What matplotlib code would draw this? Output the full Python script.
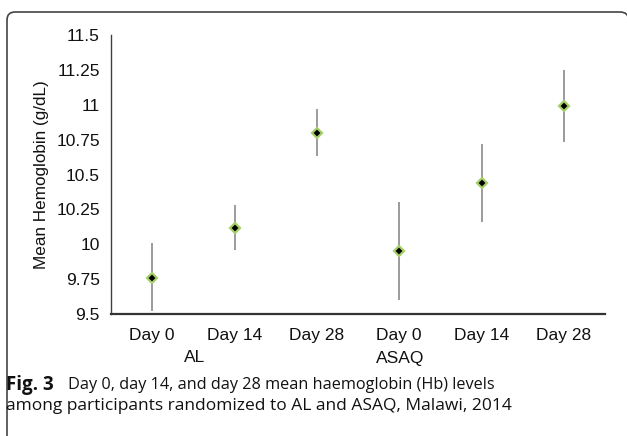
import matplotlib.pyplot as plt
from matplotlib.patches import PathPatch
from matplotlib.path import Path
from matplotlib.transforms import blended_transform_factory

# values
day_labels = ['Day 0', 'Day 14', 'Day 28', 'Day 0', 'Day 14', 'Day 28']
group_names = ['AL', 'ASAQ']
group_label_pos = [0.52, 3.01]
hb_mean = [9.76, 10.12, 10.80, 9.95, 10.44, 10.99]
hb_upper = [10.01, 10.28, 10.97, 10.30, 10.72, 11.25]
hb_lower = [9.52, 9.96, 10.63, 9.60, 10.16, 10.73]
y_ticks = [9.5, 9.75, 10, 10.25, 10.5, 10.75, 11, 11.25, 11.5]
y_tick_labels = ['9.5', '9.75', '10', '10.25', '10.5', '10.75', '11', '11.25', '11.5']

plt.rcParams['font.family'] = ['Liberation Sans', 'DejaVu Sans']

W, H = 627, 436
fig = plt.figure(figsize=(W / 100, H / 100), dpi=100)
ax = fig.add_axes([111 / W, 1 - 314 / H, 494 / W, 279 / H])

x = list(range(len(hb_mean)))
err_lo = [m - lo for m, lo in zip(hb_mean, hb_lower)]
err_hi = [hi - m for m, hi in zip(hb_mean, hb_upper)]

# error bars (thin gray, no caps)
ax.errorbar(x, hb_mean, yerr=[err_lo, err_hi], fmt='none',
            ecolor='#8a8a8a', elinewidth=1.2, capsize=0, zorder=2)
# green halo + black diamond
ax.plot(x, hb_mean, linestyle='None', marker='D', markersize=5.2,
        markerfacecolor='#000000', markeredgecolor='#a6cf6a',
        markeredgewidth=1.6, zorder=3)

ax.set_xlim(-0.5, 5.5)
ax.set_ylim(9.5, 11.5)
ax.set_yticks(y_ticks)
ax.set_yticklabels(y_tick_labels)
ax.set_xticks(x)
ax.set_xticklabels(day_labels)
ax.tick_params(axis='both', length=0, labelsize=12.5, colors='#111111')
ax.tick_params(axis='y', pad=8)
ax.tick_params(axis='x', pad=10)

for side in ['top', 'right']:
    ax.spines[side].set_visible(False)
ax.spines['left'].set_color('#404040')
ax.spines['left'].set_linewidth(1.0)
ax.spines['bottom'].set_color('#333333')
ax.spines['bottom'].set_linewidth(1.6)

ax.set_ylabel('Mean Hemoglobin (g/dL)', fontsize=12.3, color='#111111', labelpad=5)

# group labels under the day labels
trans = blended_transform_factory(ax.transData, fig.transFigure)
for name, pos in zip(group_names, group_label_pos):
    ax.text(pos, 1 - 358 / H, name, transform=trans, ha='center', va='center',
            fontsize=12.5, color='#111111')

# caption
cap_font = ['Open Sans', 'DejaVu Sans']
fig.text(6 / W, 1 - 385 / H, 'Fig. 3', fontsize=13.5, fontweight='bold',
         family=cap_font, va='center', ha='left', color='#111111')
fig.text(68 / W, 1 - 385 / H,
         'Day 0, day 14, and day 28 mean haemoglobin (Hb) levels',
         fontsize=11.7, family=cap_font, va='center', ha='left', color='#111111')
fig.text(6 / W, 1 - 406 / H,
         'among participants randomized to AL and ASAQ, Malawi, 2014',
         fontsize=12.5, family=cap_font, va='center', ha='left', color='#111111')

# rounded frame: left side, top, corners; right and bottom run off the image
def fp(px, py):
    return (px / W, 1 - py / H)

verts = [fp(7, H + 5), fp(7, 20), fp(7, 12), fp(15, 12), fp(620, 12),
         fp(628.5, 12), fp(628.5, 20), fp(628.5, H + 5)]
codes = [Path.MOVETO, Path.LINETO, Path.CURVE3, Path.CURVE3, Path.LINETO,
         Path.CURVE3, Path.CURVE3, Path.LINETO]
frame = PathPatch(Path(verts, codes), transform=fig.transFigure, fill=False,
                  edgecolor='#444444', linewidth=1.2, clip_on=False)
fig.patches.append(frame)

fig.savefig('out.png', dpi=100)
